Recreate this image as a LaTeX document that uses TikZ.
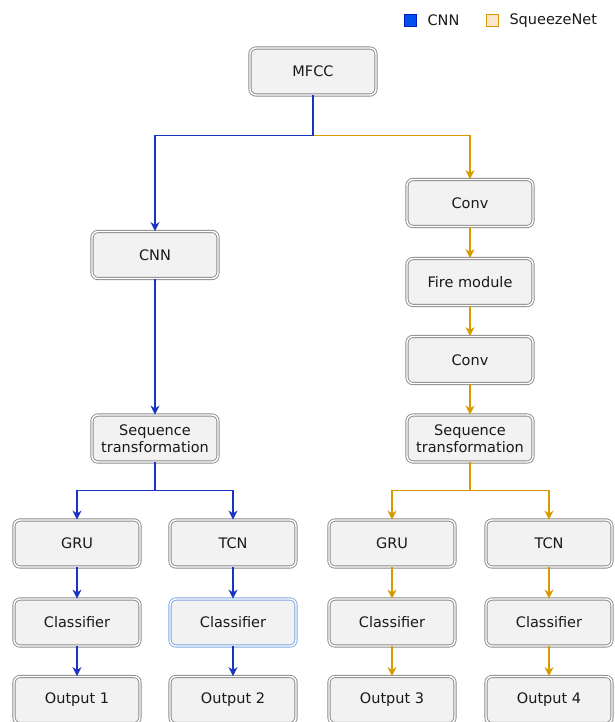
\documentclass[tikz,border=0pt]{standalone}
\usepackage{fontspec}
\setmainfont{DejaVu Sans}
\usetikzlibrary{arrows.meta,positioning,calc}
\definecolor{boxfill}{HTML}{F2F2F2}
\definecolor{boxline}{HTML}{8A8A8A}
\definecolor{cnnblue}{HTML}{001DBC}
\definecolor{cnnfill}{HTML}{0050EF}
\definecolor{sqzorange}{HTML}{D79B00}
\definecolor{sqzfill}{HTML}{FFE6CC}
\definecolor{selblue}{HTML}{7EA6E0}
\tikzset{
  block/.style={draw=boxline, line width=0.9pt, double=white, double distance=1.4pt,
    fill=boxfill, rounded corners=6pt, minimum width=126pt, minimum height=47pt,
    align=center, font=\fontsize{14.5}{17}\selectfont, text=black!90},
  cnnline/.style={cnnblue!90, line width=1.2pt, -{Stealth[length=9pt,width=9pt]}},
  sqzline/.style={sqzorange, line width=1.2pt, -{Stealth[length=9pt,width=9pt]}},
  legendbox/.style={minimum size=12pt, inner sep=0pt, line width=0.9pt},
  legendtext/.style={anchor=west, font=\fontsize{14.5}{16}\selectfont, text=black!90}
}

\begin{document}
\begin{tikzpicture}[x=1pt,y=-1pt]
\useasboundingbox (0,0) rectangle (615,722);

% Legend
\node[legendbox, draw=cnnblue, fill=cnnfill] (keycnn) at (410,20.5) {};
\node[legendtext] (keycnntext) at (424,20.5) {CNN};
\node[legendbox, draw=sqzorange, fill=sqzfill] (keysqz) at (492,20.5) {};
\node[legendtext] (keysqztext) at (506,20.5) {SqueezeNet};

% Input
\node[block] (mfcc) at (313,71.5) {MFCC};

% CNN branch
\node[block] (cnn) at (155,255) {CNN};
\node[block] (seqa) at (155,438.5) {Sequence\\transformation};
\node[block] (grua) at (77,543.5) {GRU};
\node[block] (tcna) at (233,543.5) {TCN};
\node[block] (clsa) at (77,622.5) {Classifier};
\node[block, draw=selblue] (clsb) at (233,622.5) {Classifier};
\node[block] (outa) at (77,700) {Output 1};
\node[block] (outb) at (233,700) {Output 2};

% SqueezeNet branch
\node[block] (conva) at (470,203) {Conv};
\node[block] (fire) at (470,282) {Fire module};
\node[block] (convb) at (470,360) {Conv};
\node[block] (seqb) at (470,438.5) {Sequence\\transformation};
\node[block] (grub) at (392,543.5) {GRU};
\node[block] (tcnb) at (549,543.5) {TCN};
\node[block] (clsc) at (392,622.5) {Classifier};
\node[block] (clsd) at (549,622.5) {Classifier};
\node[block] (outc) at (392,700) {Output 3};
\node[block] (outd) at (549,700) {Output 4};

% SqueezeNet connectors
\draw[sqzline] (mfcc.south) -- ++(0,40) -| (conva.north);
\draw[sqzline] (conva) -- (fire);
\draw[sqzline] (fire) -- (convb);
\draw[sqzline] (convb) -- (seqb);
\draw[sqzline] (seqb.south) -- ++(0,28) -| (grub.north);
\draw[sqzline] (seqb.south) -- ++(0,28) -| (tcnb.north);
\draw[sqzline] (grub) -- (clsc);
\draw[sqzline] (tcnb) -- (clsd);
\draw[sqzline] (clsc) -- (outc);
\draw[sqzline] (clsd) -- (outd);

% CNN connectors
\draw[cnnline] (mfcc.south) -- ++(0,40) -| (cnn.north);
\draw[cnnline] (cnn) -- (seqa);
\draw[cnnline] (seqa.south) -- ++(0,28) -| (grua.north);
\draw[cnnline] (seqa.south) -- ++(0,28) -| (tcna.north);
\draw[cnnline] (grua) -- (clsa);
\draw[cnnline] (tcna) -- (clsb);
\draw[cnnline] (clsa) -- (outa);
\draw[cnnline] (clsb) -- (outb);

\end{tikzpicture}
\end{document}
